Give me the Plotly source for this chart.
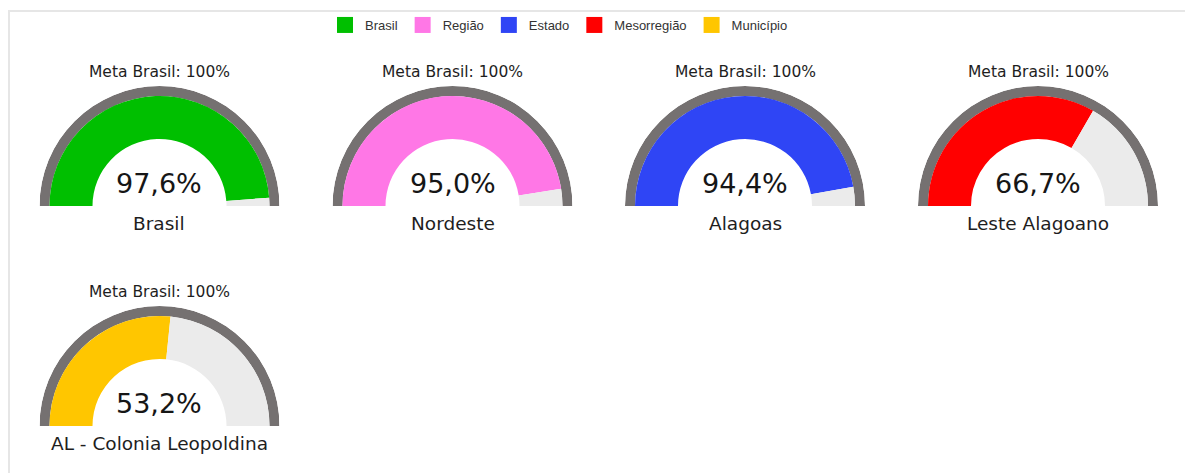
import plotly.graph_objects as go

# ---- data ----
categories = ["Brasil", "Região", "Estado", "Mesorregião", "Município"]
gauge_labels = ["Brasil", "Nordeste", "Alagoas", "Leste Alagoano", "AL - Colonia Leopoldina"]
values = [97.6, 95.0, 94.4, 66.7, 53.2]
value_texts = ["97,6%", "95,0%", "94,4%", "66,7%", "53,2%"]
colors = ["#00bf00", "#ff77e6", "#2f45f5", "#ff0000", "#ffc600"]
meta_text = "Meta Brasil: 100%"
target = 100

# ---- layout constants (pixels, figure coords; page has 8px body margin) ----
W, H = 1185, 465
centers = [(151.5, 198), (444.5, 198), (737, 198), (1030, 198), (151.5, 418)]
R_OUT = 120   # outer grey ring radius
R_IN = 110    # colored arc radius
R_HOLE = 67   # white hole radius
DEG = 180.0 / target  # degrees per percentage point

GRAY = "#757171"
REST = "#ebebeb"
CLEAR = "rgba(0,0,0,0)"
FONT = "DejaVu Sans"

fig = go.Figure()
polars = {}

for i, (lab, v, vt, c) in enumerate(zip(gauge_labels, values, value_texts, colors)):
    cx, cy = centers[i]
    name = "polar" if i == 0 else f"polar{i + 1}"
    fig.add_trace(go.Barpolar(
        subplot=name,
        theta=[target * DEG / 2, v * DEG / 2, (v + (target - v) / 2) * DEG],
        width=[target * DEG, v * DEG, (target - v) * DEG],
        base=[R_IN, R_HOLE, R_HOLE],
        r=[R_OUT - R_IN, R_IN - R_HOLE, R_IN - R_HOLE],
        marker=dict(color=[GRAY, c, REST], line=dict(width=0)),
        hoverinfo="skip", showlegend=False))
    polars[name] = dict(
        domain=dict(x=[(cx - R_OUT) / W, (cx + R_OUT) / W],
                    y=[1 - cy / H, 1 - (cy - R_OUT) / H]),
        sector=[0, 180], bgcolor=CLEAR, barmode="overlay", hole=0,
        radialaxis=dict(visible=False, range=[0, R_OUT]),
        angularaxis=dict(visible=False, rotation=180, direction="clockwise",
                         thetaunit="degrees"),
    )
    fig.add_annotation(x=cx / W, y=1 - (cy - 134) / H, xref="paper", yref="paper",
                       xanchor="center", yanchor="middle",
                       text=meta_text, showarrow=False,
                       font=dict(family=FONT, size=15.5, color="#1e1e1e"))
    fig.add_annotation(x=cx / W, y=1 - (cy - 23) / H, xref="paper", yref="paper",
                       xanchor="center", yanchor="middle",
                       text=vt, showarrow=False,
                       font=dict(family=FONT, size=27, color="#161616"))
    fig.add_annotation(x=cx / W, y=1 - (cy + 17) / H, xref="paper", yref="paper",
                       xanchor="center", yanchor="middle",
                       text=lab, showarrow=False,
                       font=dict(family=FONT, size=18.5, color="#1e1e1e"))

# legend entries
for cat, c in zip(categories, colors):
    fig.add_trace(go.Scatter(x=[None], y=[None], mode="markers", name=cat,
                             marker=dict(symbol="square", size=16, color=c),
                             showlegend=True, hoverinfo="skip"))

fig.update_layout(
    width=W, height=H, autosize=False,
    margin=dict(l=0, r=0, t=0, b=0),
    paper_bgcolor="white", plot_bgcolor="white",
    xaxis=dict(visible=False), yaxis=dict(visible=False),
    legend=dict(orientation="h", x=0.465, xanchor="center", y=1 - 2 / H, yanchor="top",
                font=dict(family="Liberation Sans", size=13, color="#333"),
                tracegroupgap=0, bgcolor=CLEAR),
    shapes=[dict(type="rect", xref="paper", yref="paper", x0=1 / W, x1=1.1,
                 y0=-0.1, y1=1 - 3 / H, line=dict(color="#e6e6e6", width=2),
                 layer="below")],
    **polars,
)

fig.write_html("out.html")
